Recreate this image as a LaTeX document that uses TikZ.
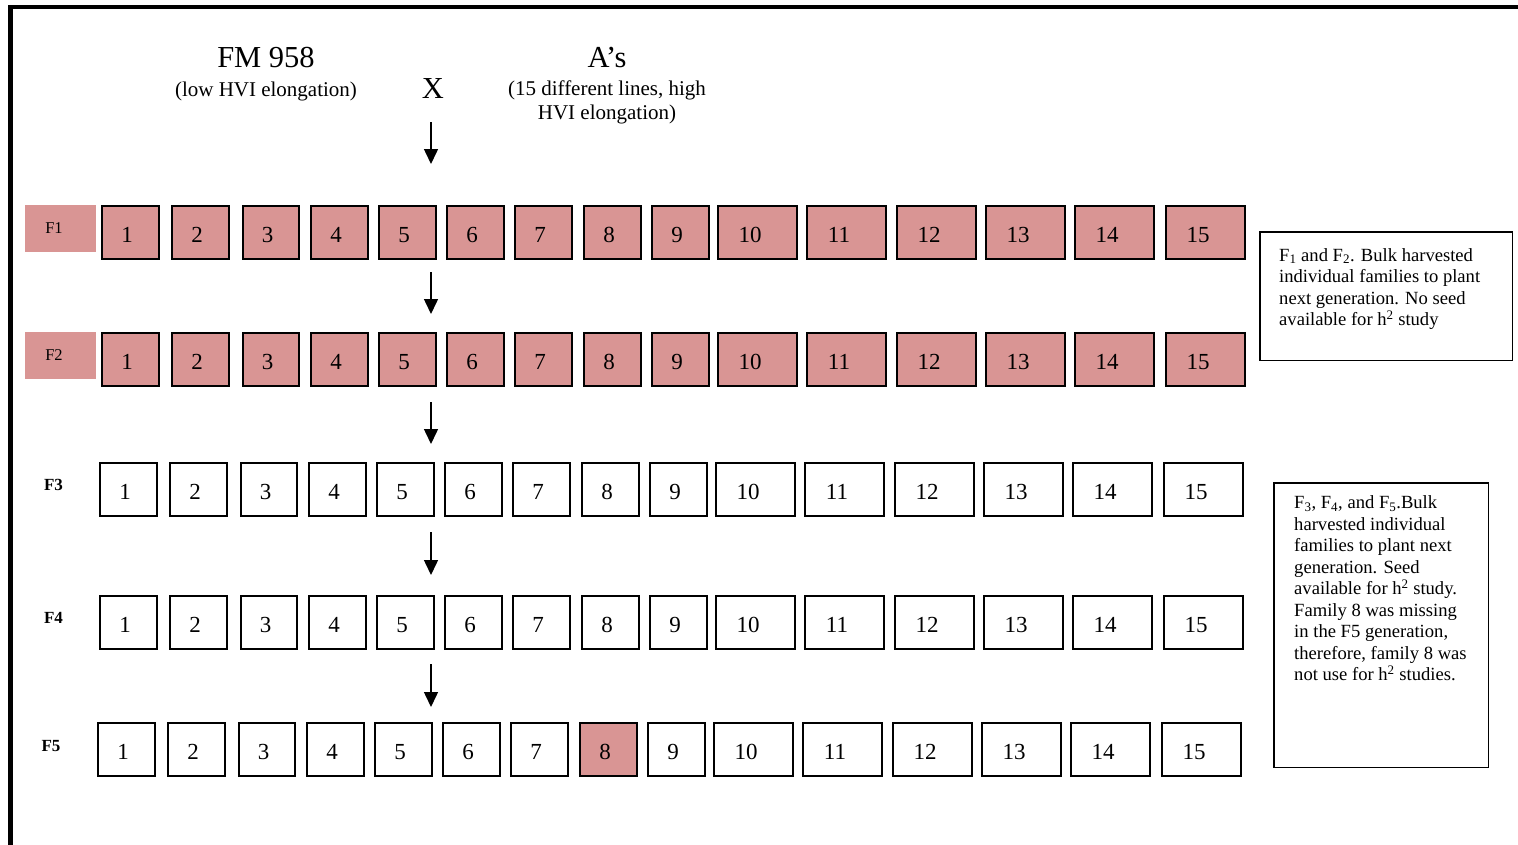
\documentclass[tikz,border=0pt]{standalone}
\usepackage{fontspec}
\setmainfont{Liberation Serif}
\usetikzlibrary{arrows.meta}
\definecolor{famPink}{RGB}{217,149,148}
\begin{document}
\begin{tikzpicture}[x=1pt,y=-1pt,
  fambox/.style={draw=black, line width=2pt, minimum height=53pt, anchor=north west,
    inner sep=0pt, text height=19.6pt, text depth=0pt, font=\fontsize{23}{27}\selectfont},
  genlabel/.style={anchor=base, inner sep=0pt, font=\bfseries\fontsize{17}{20}\selectfont},
  pinklabel/.style={fill=famPink, anchor=north west, inner sep=0pt, minimum width=71pt, minimum height=46.5pt},
  pinktext/.style={anchor=base, inner sep=0pt, font=\fontsize{16.5}{20}\selectfont},
  titletext/.style={anchor=base, inner sep=0pt, font=\fontsize{30.5}{36}\selectfont},
  subtext/.style={anchor=base, inner sep=0pt, align=center, font=\fontsize{21}{24}\selectfont},
  notebox/.style={draw=black, line width=1.5pt, anchor=north west, inner sep=0pt},
  notetext/.style={anchor=base west, inner sep=0pt, align=left, font=\fontsize{18.6}{21.5}\selectfont},
  genarrow/.style={draw=black, line width=1.5pt, -{Triangle[width=14pt,length=15pt]}}
]
\useasboundingbox (0,0) rectangle (1518,844);
\fill[white] (0,0) rectangle (1518,844);
% frame
\draw[line width=4.5pt] (10.5,850) -- (10.5,7) -- (1525,7);

% header
\node[titletext] (fm) at (266,67) {FM 958};
\node[subtext] (fmsub) at (266,96) {(low HVI elongation)};
\node[titletext] (cross) at (433,98) {X};
\node[titletext] (as) at (607,67) {A’s};
\node[subtext] (assub) at (607,119.5) {(15 different lines, high\\HVI elongation)};

% generation labels
\node[pinklabel] (f1box) at (25,205) {};
\node[pinktext] (f1lab) at (54,233) {F1};
\node[pinklabel] (f2box) at (25,332) {};
\node[pinktext] (f2lab) at (54,360) {F2};
\node[genlabel] (f3lab) at (53.5,490) {F3};
\node[genlabel] (f4lab) at (53.5,623) {F4};
\node[genlabel] (f5lab) at (51,751) {F5};

% family boxes
\foreach \r/\top/\off in {1/205/0, 2/332/0, 3/462/-2, 4/595/-2, 5/722/-4} {
  \foreach \i/\l/\w/\s in {1/101/57/-7, 2/171/57/-7, 3/242/56/-7, 4/310/57/-7, 5/378/57/-7, 6/446/57/-7,
      7/514/57/-7, 8/583/57/-7, 9/651/57/-7, 10/717/79/-15, 11/806/79/-15, 12/896/79/-15, 13/985/79/-15,
      14/1074/79/-15, 15/1165/79/-15} {
    \ifnum\r<3 \def\fc{famPink}\else
      \ifnum\r=5 \ifnum\i=8 \def\fc{famPink}\else\def\fc{white}\fi
      \else\def\fc{white}\fi
    \fi
    \node[fambox, fill=\fc, minimum width=\w pt, xshift=\off pt] (r\r c\i) at (\l,\top) {\hspace*{\s pt}\i};
  }
}

% arrows
\coordinate (a0s) at (431,122); \coordinate (a0e) at (431,164);
\coordinate (a1s) at (431,272); \coordinate (a1e) at (431,314);
\coordinate (a2s) at (431,402); \coordinate (a2e) at (431,444);
\coordinate (a3s) at (431,532); \coordinate (a3e) at (431,575);
\coordinate (a4s) at (431,664); \coordinate (a4e) at (431,707);
\draw[genarrow] (a0s) -- (a0e);
\draw[genarrow] (a1s) -- (a1e);
\draw[genarrow] (a2s) -- (a2e);
\draw[genarrow] (a3s) -- (a3e);
\draw[genarrow] (a4s) -- (a4e);

% notes
\node[notebox, minimum width=252.5pt, minimum height=128.5pt] (note1) at (1259,231) {};
\node[notetext] (note1txt) at (1279,325.5) {F\textsubscript{1} and F\textsubscript{2}. Bulk harvested\\individual families to plant\\next generation. No seed\\available for h\textsuperscript{2} study};
\node[notebox, minimum width=214.5pt, minimum height=284.5pt] (note2) at (1273,482) {};
\node[notetext] (note2txt) at (1294,680.5) {F\textsubscript{3}, F\textsubscript{4}, and F\textsubscript{5}.Bulk\\harvested individual\\families to plant next\\generation. Seed\\available for h\textsuperscript{2} study.\\Family 8 was missing\\in the F5 generation,\\therefore, family 8 was\\not use for h\textsuperscript{2} studies.};
\end{tikzpicture}
\end{document}
